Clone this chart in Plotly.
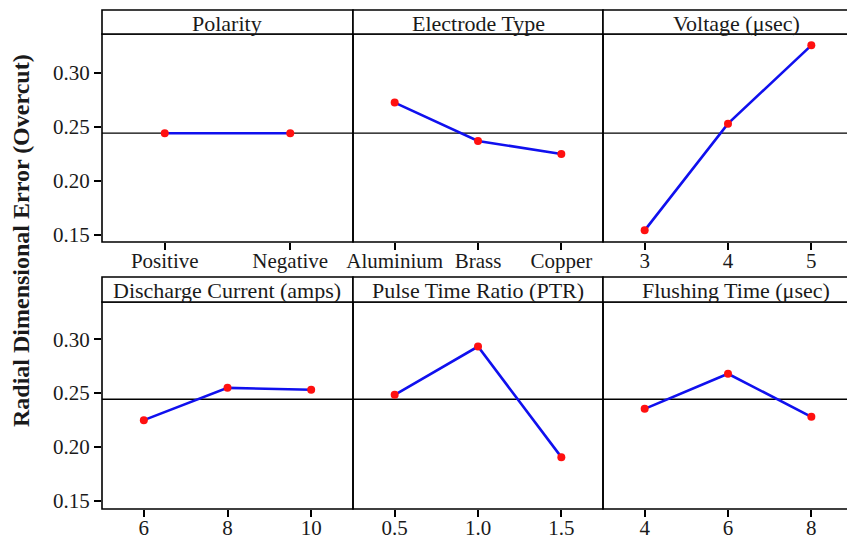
import plotly.graph_objects as go

# ---------------- data ----------------
polarity_levels = ["Positive", "Negative"]
polarity_means = [0.2442, 0.2442]

electrode_levels = ["Aluminium", "Brass", "Copper"]
electrode_means = [0.2726, 0.2370, 0.2250]

voltage_levels = [3, 4, 5]
voltage_means = [0.1543, 0.2531, 0.3256]

current_levels = [6, 8, 10]
current_means = [0.2249, 0.2549, 0.2531]

ptr_levels = [0.5, 1.0, 1.5]
ptr_means = [0.2484, 0.2933, 0.1905]
ptr_ticktext = ["0.5", "1.0", "1.5"]

flushing_levels = [4, 6, 8]
flushing_means = [0.2354, 0.2680, 0.2280]

grand_mean = 0.2443

panel_titles = ["Polarity", "Electrode Type", "Voltage (μsec)",
                "Discharge Current (amps)", "Pulse Time Ratio (PTR)", "Flushing Time (μsec)"]
y_ticks = [0.15, 0.20, 0.25, 0.30]
y_ticktext = ["0.15", "0.20", "0.25", "0.30"]
y_title = "Radial Dimensional Error (Overcut)"

# ---------------- layout geometry (pixels) ----------------
W, H = 847, 543
FONT = "Liberation Serif"
TXT = "#1a1a1a"
cols_px = [(102, 353), (353, 603), (603, 847)]
box_right = [353, 603, 855]      # third column runs past the picture edge
title_center = [227, 478, 736]
rows_px = [  # (strip_top, plot_top, plot_bottom)
    (10, 34, 242),
    (277, 302, 509),
]
yranges = [[0.1435, 0.3361], [0.1423, 0.3347]]


def px_x(p):
    return p / W


def px_y(p):
    return 1 - p / H


panels = [
    dict(x=polarity_levels, y=polarity_means, cat=True, xr=[-0.5, 1.5]),
    dict(x=electrode_levels, y=electrode_means, cat=True, xr=[-0.5, 2.5]),
    dict(x=voltage_levels, y=voltage_means, cat=False, xr=[2.5, 2.5 + 244 / 83.33],
         tv=voltage_levels, tt=[str(v) for v in voltage_levels]),
    dict(x=current_levels, y=current_means, cat=False, xr=[5, 11],
         tv=current_levels, tt=[str(v) for v in current_levels]),
    dict(x=ptr_levels, y=ptr_means, cat=False, xr=[0.25, 1.75],
         tv=ptr_levels, tt=ptr_ticktext),
    dict(x=flushing_levels, y=flushing_means, cat=False, xr=[3, 3 + 244 / 41.67],
         tv=flushing_levels, tt=[str(v) for v in flushing_levels]),
]

fig = go.Figure()
shapes = []
annotations = []
layout = {}

for i, p in enumerate(panels):
    r, c = divmod(i, 3)
    n = i + 1
    xname = "x" if n == 1 else f"x{n}"
    yname = "y" if n == 1 else f"y{n}"
    xkey = "xaxis" if n == 1 else f"xaxis{n}"
    ykey = "yaxis" if n == 1 else f"yaxis{n}"
    x0p, x1p = cols_px[c]
    st, pt, pb = rows_px[r]

    fig.add_trace(go.Scatter(
        x=p["x"], y=p["y"], xaxis=xname, yaxis=yname, mode="lines+markers",
        line=dict(color="#1010ee", width=2.6),
        marker=dict(color="#ff1010", size=8),
        showlegend=False, hoverinfo="x+y", cliponaxis=False,
    ))

    xa = dict(domain=[px_x(x0p), px_x(x1p)], anchor=yname, range=p["xr"],
              automargin=False, showgrid=False, zeroline=False, showline=False,
              ticks="outside", ticklen=7, tickwidth=1.5, tickcolor="black",
              ticklabelstandoff=-7,
              tickfont=dict(family=FONT, size=21, color=TXT), fixedrange=True)
    if p["cat"]:
        xa["type"] = "category"
    else:
        xa["tickmode"] = "array"
        xa["tickvals"] = p["tv"]
        xa["ticktext"] = p["tt"]
    layout[xkey] = xa

    ya = dict(domain=[px_y(pb), px_y(pt)], anchor=xname, range=yranges[r],
              automargin=False, showgrid=False, zeroline=False, showline=False,
              fixedrange=True, tickmode="array", tickvals=y_ticks, ticktext=y_ticktext)
    if c == 0:
        ya.update(ticks="outside", ticklen=7, tickwidth=1.5, tickcolor="black",
                  tickfont=dict(family=FONT, size=21, color=TXT), showticklabels=True)
    else:
        ya.update(ticks="", showticklabels=False)
    layout[ykey] = ya

    # grand mean reference line
    shapes.append(dict(type="line", xref=f"{xname} domain", yref=yname,
                       x0=0, x1=1, y0=grand_mean, y1=grand_mean,
                       line=dict(color="black", width=1.3), layer="below"))
    # panel box
    shapes.append(dict(type="rect", xref="paper", yref="paper",
                       x0=px_x(x0p), x1=px_x(box_right[c]), y0=px_y(pb), y1=px_y(pt),
                       line=dict(color="black", width=1.6), fillcolor="rgba(0,0,0,0)"))
    # strip box
    shapes.append(dict(type="rect", xref="paper", yref="paper",
                       x0=px_x(x0p), x1=px_x(box_right[c]), y0=px_y(pt), y1=px_y(st),
                       line=dict(color="black", width=1.6), fillcolor="white"))
    annotations.append(dict(xref="paper", yref="paper",
                            x=px_x(title_center[c]), y=px_y((st + pt) / 2 + 1),
                            text=panel_titles[i], showarrow=False,
                            font=dict(family=FONT, size=22, color=TXT),
                            xanchor="center", yanchor="middle"))

annotations.append(dict(xref="paper", yref="paper", x=px_x(21), y=px_y(241),
                        text=f"<b>{y_title}</b>", showarrow=False, textangle=-90,
                        font=dict(family=FONT, size=24, color=TXT),
                        xanchor="center", yanchor="middle"))

fig.update_layout(
    template="none",
    width=W, height=H, margin=dict(l=0, r=0, t=0, b=0, autoexpand=False),
    paper_bgcolor="white", plot_bgcolor="white",
    shapes=shapes, annotations=annotations, **layout,
)

fig.write_html(
    "out.html",
    config={"displayModeBar": False, "staticPlot": False},
    post_script="document.body.style.margin='0';document.body.style.overflow='hidden';",
)
